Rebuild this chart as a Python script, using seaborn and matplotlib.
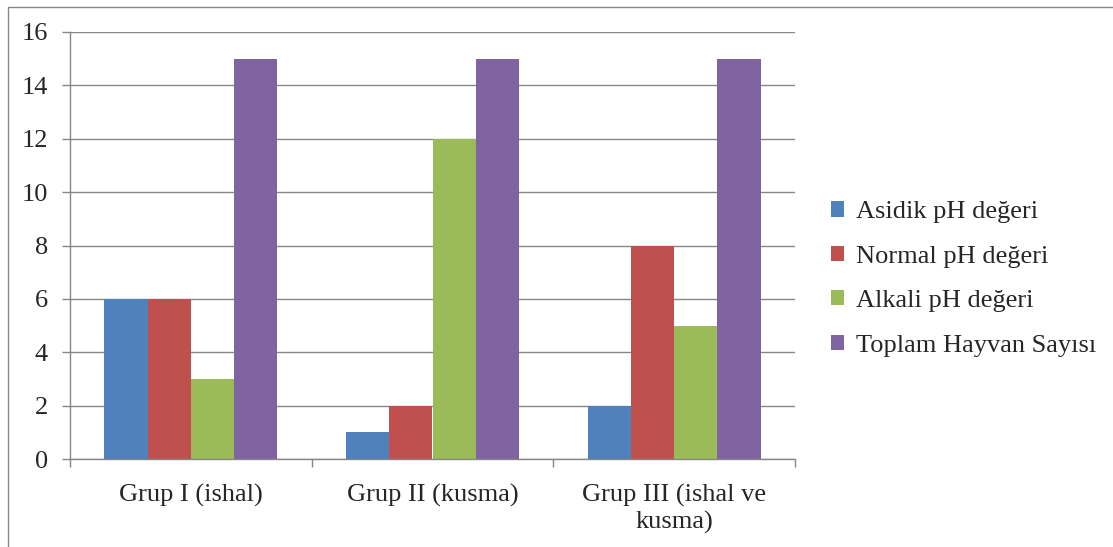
import matplotlib
matplotlib.use("Agg")
import matplotlib.pyplot as plt
from matplotlib.patches import Rectangle
import pandas as pd
import seaborn as sns

groups = ["Grup I (ishal)", "Grup II (kusma)", "Grup III (ishal ve\nkusma)"]
series = ["Asidik pH değeri", "Normal pH değeri", "Alkali pH değeri", "Toplam Hayvan Sayısı"]
asidik = [6, 1, 2]
normal = [6, 2, 8]
alkali = [3, 12, 5]
toplam = [15, 15, 15]
colors = ["#4F81BD", "#C0504D", "#9BBB59", "#8064A2"]

df = pd.DataFrame({
    "grup": groups * 4,
    "seri": [s for s in series for _ in groups],
    "deger": asidik + normal + alkali + toplam,
})

sns.set_theme(style="white")
plt.rcParams["font.family"] = ["Liberation Serif", "DejaVu Serif"]

fig = plt.figure(figsize=(11.13, 5.47), dpi=100)
ax = fig.add_axes([70 / 1113, 1 - 459 / 547, 725 / 1113, 427 / 547])

sns.barplot(data=df, x="grup", y="deger", hue="seri", hue_order=series,
            palette=colors, saturation=1, width=0.717, gap=0, linewidth=0,
            ax=ax, legend=True)

ax.set_xlim(-0.5, 2.5)
ax.set_ylim(0, 16)
ax.set_yticks(range(0, 17, 2))
ax.set_xlabel("")
ax.set_ylabel("")
ax.grid(axis="y", color="#868686", linewidth=1.0)
ax.set_axisbelow(True)
for side in ["top", "right"]:
    ax.spines[side].set_visible(False)
for side in ["left", "bottom"]:
    ax.spines[side].set_color("#868686")
    ax.spines[side].set_linewidth(1.0)

ax.tick_params(axis="y", which="major", length=6, width=1, color="#868686",
               labelsize=19, pad=10, left=True)
ax.set_xticks([0, 1, 2])
ax.set_xticklabels(groups, fontsize=19, linespacing=1.2)
ax.tick_params(axis="x", which="major", length=0, pad=18)
ax.set_xticks([-0.5, 0.5, 1.5, 2.5], minor=True)
ax.tick_params(axis="x", which="minor", length=6, width=1, color="#868686", bottom=True)

handles, labels = ax.get_legend_handles_labels()
ax.legend(handles, labels, loc="center left", bbox_to_anchor=(831 / 1113, 1 - 279 / 547),
          bbox_transform=fig.transFigure, frameon=False, fontsize=19,
          handlelength=0.5, handleheight=0.5, handletextpad=0.45, labelspacing=0.85,
          borderpad=0, borderaxespad=0)

fig.patches.append(Rectangle((8 / 1113, -0.1), 1.2, 1 - 7 / 547 + 0.1,
                             transform=fig.transFigure, fill=False,
                             edgecolor="#868686", linewidth=1.0))

fig.savefig("out.png", dpi=100)
